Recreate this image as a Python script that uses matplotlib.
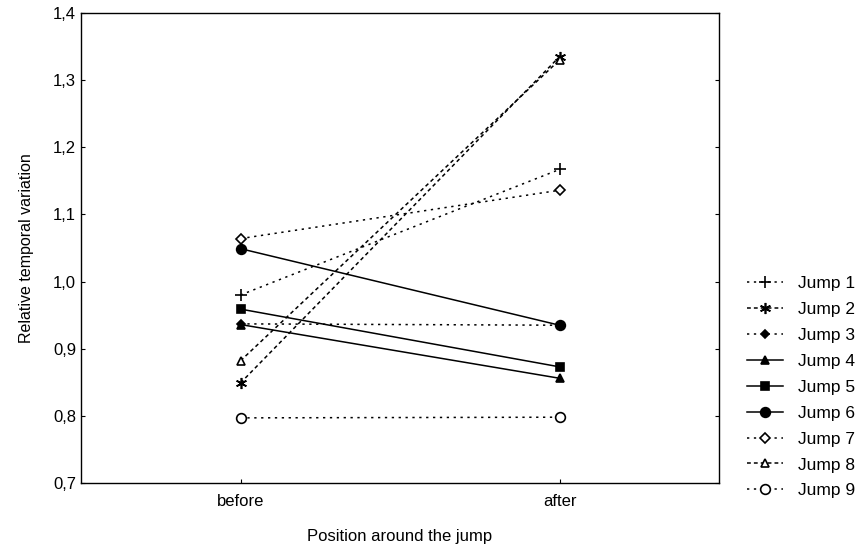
import matplotlib
matplotlib.use("Agg")
import matplotlib.pyplot as plt
from matplotlib.ticker import FuncFormatter

plt.rcParams['font.family'] = ['Liberation Sans', 'DejaVu Sans']

positions = ["before", "after"]
jumps = ["Jump 1", "Jump 2", "Jump 3", "Jump 4", "Jump 5",
         "Jump 6", "Jump 7", "Jump 8", "Jump 9"]
before = [0.980, 0.849, 0.937, 0.936, 0.959, 1.049, 1.064, 0.882, 0.797]
after = [1.167, 1.335, 0.935, 0.856, 0.873, 0.935, 1.136, 1.330, 0.798]

# marker, fill, line style per jump
markers = ['+', (6, 2, 0), 'D', '^', 's', 'o', 'D', '^', 'o']
filled = [True, True, True, True, True, True, False, False, False]
dotted = (0, (1.5, 3))
dashed = (0, (2.5, 2))
styles = [dotted, dashed, dotted, '-', '-', '-', dotted, dashed, dotted]
sizes = [8, 8, 4.5, 6, 6, 7, 5, 6, 7]

fig = plt.figure(figsize=(8.68, 5.45), dpi=100)
ax = fig.add_axes([81 / 868, 1 - 483 / 545, 638 / 868, 470 / 545])

x = list(range(len(positions)))
for i, name in enumerate(jumps):
    ax.plot(x, [before[i], after[i]], color='black', linestyle=styles[i],
            linewidth=1.1, marker=markers[i], markersize=sizes[i],
            markerfacecolor='black' if filled[i] else 'white',
            markeredgecolor='black', markeredgewidth=1.2, label=name)

ax.set_xlim(-0.5, 1.5)
ax.set_ylim(0.7, 1.4)
ax.set_xticks(x)
ax.set_xticklabels(positions)
ax.set_yticks([0.7, 0.8, 0.9, 1.0, 1.1, 1.2, 1.3, 1.4])
ax.yaxis.set_major_formatter(FuncFormatter(lambda v, p: f"{v:.1f}".replace('.', ',')))
ax.tick_params(direction='in', length=3, labelsize=12, right=True)
ax.tick_params(axis='x', pad=8)
for s in ax.spines.values():
    s.set_linewidth(1.0)

ax.set_xlabel("Position around the jump", fontsize=12, labelpad=14)
ax.set_ylabel("Relative temporal variation", fontsize=11.5, labelpad=14)

fig.legend(loc='upper left', bbox_to_anchor=(747 / 868, 1 - 276 / 545),
           frameon=False, fontsize=12.5, handlelength=2.1, handletextpad=0.85,
           labelspacing=0.62, borderpad=0, borderaxespad=0)

fig.savefig("out.png", dpi=100)
